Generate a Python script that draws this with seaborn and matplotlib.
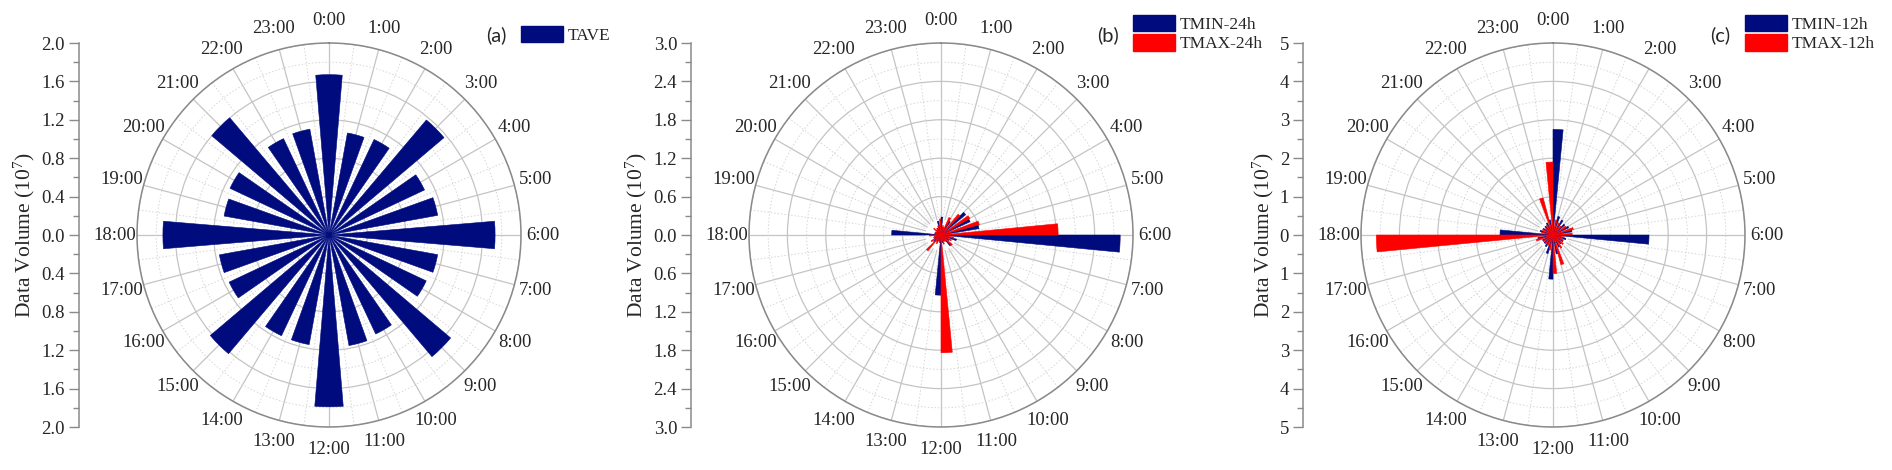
import numpy as np
import matplotlib
matplotlib.use("Agg")
import matplotlib.pyplot as plt
from matplotlib.patches import Patch
import seaborn as sns

# hour of day (0:00 at top, clockwise)
hours = list(range(24))
hour_labels = [f"{h}:00" for h in hours]

# data volume, 10^7 records
tave = [1.67, 1.08, 1.10, 1.57, 1.10, 1.15, 1.73, 1.15, 1.12, 1.66, 1.14, 1.17,
        1.79, 1.16, 1.16, 1.62, 1.15, 1.16, 1.73, 1.11, 1.14, 1.60, 1.11, 1.12]

tmin_24h = [0.28, 0.12, 0.25, 0.50, 0.50, 0.60, 2.80, 0.25, 0.15, 0.22, 0.10, 0.12,
            0.94, 0.10, 0.12, 0.15, 0.12, 0.10, 0.77, 0.10, 0.08, 0.10, 0.12, 0.22]
tmax_24h = [0.25, 0.15, 0.30, 0.42, 0.52, 0.62, 1.83, 0.20, 0.18, 0.23, 0.12, 0.15,
            1.84, 0.12, 0.15, 0.32, 0.18, 0.12, 0.18, 0.10, 0.10, 0.15, 0.12, 0.15]

tmin_12h = [2.75, 0.50, 0.45, 0.40, 0.45, 0.50, 2.50, 0.35, 0.30, 0.30, 0.35, 0.50,
            1.15, 0.50, 0.35, 0.30, 0.30, 0.40, 1.38, 0.35, 0.30, 0.30, 0.35, 0.40]
tmax_12h = [1.90, 0.40, 0.35, 0.30, 0.40, 0.55, 0.50, 0.30, 0.30, 0.35, 0.40, 0.80,
            1.00, 0.40, 0.30, 0.30, 0.30, 0.45, 4.60, 0.30, 0.30, 0.25, 0.30, 1.00]

NAVY = "#000c7d"
RED = "#ff0000"
GRID = "#c4c4c4"
AXC = "#8a8a8a"

panels = [
    dict(tag="(a)", rmax=2.0, step=0.4, fmt="{:.1f}",
         series=[("TAVE", tave, NAVY)]),
    dict(tag="(b)", rmax=3.0, step=0.6, fmt="{:.1f}",
         series=[("TMIN-24h", tmin_24h, NAVY), ("TMAX-24h", tmax_24h, RED)]),
    dict(tag="(c)", rmax=5.0, step=1.0, fmt="{:.0f}",
         series=[("TMIN-12h", tmin_12h, NAVY), ("TMAX-12h", tmax_12h, RED)]),
]

sns.set_theme(style="white")
plt.rcParams["font.family"] = ["Liberation Serif", "DejaVu Serif"]
plt.rcParams["mathtext.fontset"] = "custom"
plt.rcParams["mathtext.rm"] = "Liberation Serif"
plt.rcParams["mathtext.it"] = "Liberation Serif:italic"

W, H = 1892, 470
fig = plt.figure(figsize=(W / 100, H / 100), dpi=100)

R = 192          # polar radius in px
CY = 235         # center y in px

for i, p in enumerate(panels):
    cx = 329 + 612 * i
    rmax, step = p["rmax"], p["step"]

    ax = fig.add_axes([(cx - R) / W, (H - CY - R) / H, 2 * R / W, 2 * R / H],
                      projection="polar")
    ax.set_theta_zero_location("N")
    ax.set_theta_direction(-1)
    ax.set_ylim(0, rmax)

    theta_major = np.deg2rad(np.array(hours) * 15.0)
    ax.set_xticks(theta_major)
    ax.set_xticklabels(hour_labels, fontsize=13.5)
    ax.set_xticks(theta_major + np.deg2rad(7.5), minor=True)
    ax.set_yticks(np.arange(step, rmax + 1e-9, step))
    ax.set_yticks(np.arange(step / 2, rmax, step), minor=True)
    ax.set_yticklabels([])
    ax.grid(which="major", color=GRID, lw=0.9, ls="-")
    ax.grid(which="minor", color="#d6d6d6", lw=0.7, ls=(0, (1.5, 2)))
    ax.tick_params(axis="x", which="major", pad=4, length=5, color=AXC, direction="out")
    ax.tick_params(axis="x", which="minor", length=3, color=AXC, direction="out")
    ax.tick_params(axis="y", which="both", length=0)
    ax.spines["polar"].set_color(AXC)
    ax.spines["polar"].set_linewidth(1.1)

    # blank center where grid lines stop
    ax.bar(0, rmax * 0.08, width=2 * np.pi, color="white", edgecolor="none", zorder=0.9)

    n = len(p["series"])
    if n == 1:
        width, offsets = 9.5, [0.0]
    else:
        width, offsets = 5.5, [2.75, -2.75]

    handles = []
    for (name, vals, color), off in zip(p["series"], offsets):
        th = np.deg2rad(np.array(hours) * 15.0 + off)
        ax.bar(th, vals, width=np.deg2rad(width), bottom=0, color=color,
               edgecolor=color, lw=0.4, zorder=2)
        handles.append(Patch(facecolor=color, edgecolor=color, label=name))

    # left linear scale
    lax = fig.add_axes([(cx - 250) / W, (H - CY - R) / H, 0.0005, 2 * R / H])
    lax.set_facecolor("none")
    for s in ["top", "right", "bottom"]:
        lax.spines[s].set_visible(False)
    lax.spines["left"].set_color(AXC)
    lax.spines["left"].set_linewidth(1.1)
    lax.set_ylim(-rmax, rmax)
    ticks = np.arange(-rmax, rmax + 1e-9, step)
    lax.set_yticks(ticks)
    lax.set_yticklabels([p["fmt"].format(abs(t)) for t in ticks], fontsize=13.5)
    lax.set_yticks(np.arange(-rmax + step / 2, rmax, step), minor=True)
    lax.set_xticks([])
    lax.tick_params(axis="y", which="major", length=7, width=1, color=AXC, pad=3, left=True)
    lax.tick_params(axis="y", which="minor", length=4, width=1, color=AXC, left=True)
    lax.set_ylabel("Data Volume (10$^{7}$)", fontsize=15.5, labelpad=3)

    # panel tag + legend
    fig.text((cx + 167) / W, 1 - 35 / H, p["tag"], fontsize=14.5, family="Lato",
             ha="center", va="center")
    top = 25.5 if n == 1 else 14.5
    fig.legend(handles=handles, loc="upper left",
               bbox_to_anchor=((cx + 192) / W, 1 - top / H),
               frameon=False, fontsize=12.5, handlelength=2.4, handleheight=1.09,
               handletextpad=0.3, labelspacing=0.08, borderpad=0, borderaxespad=0)

fig.savefig("out.png", dpi=100)
